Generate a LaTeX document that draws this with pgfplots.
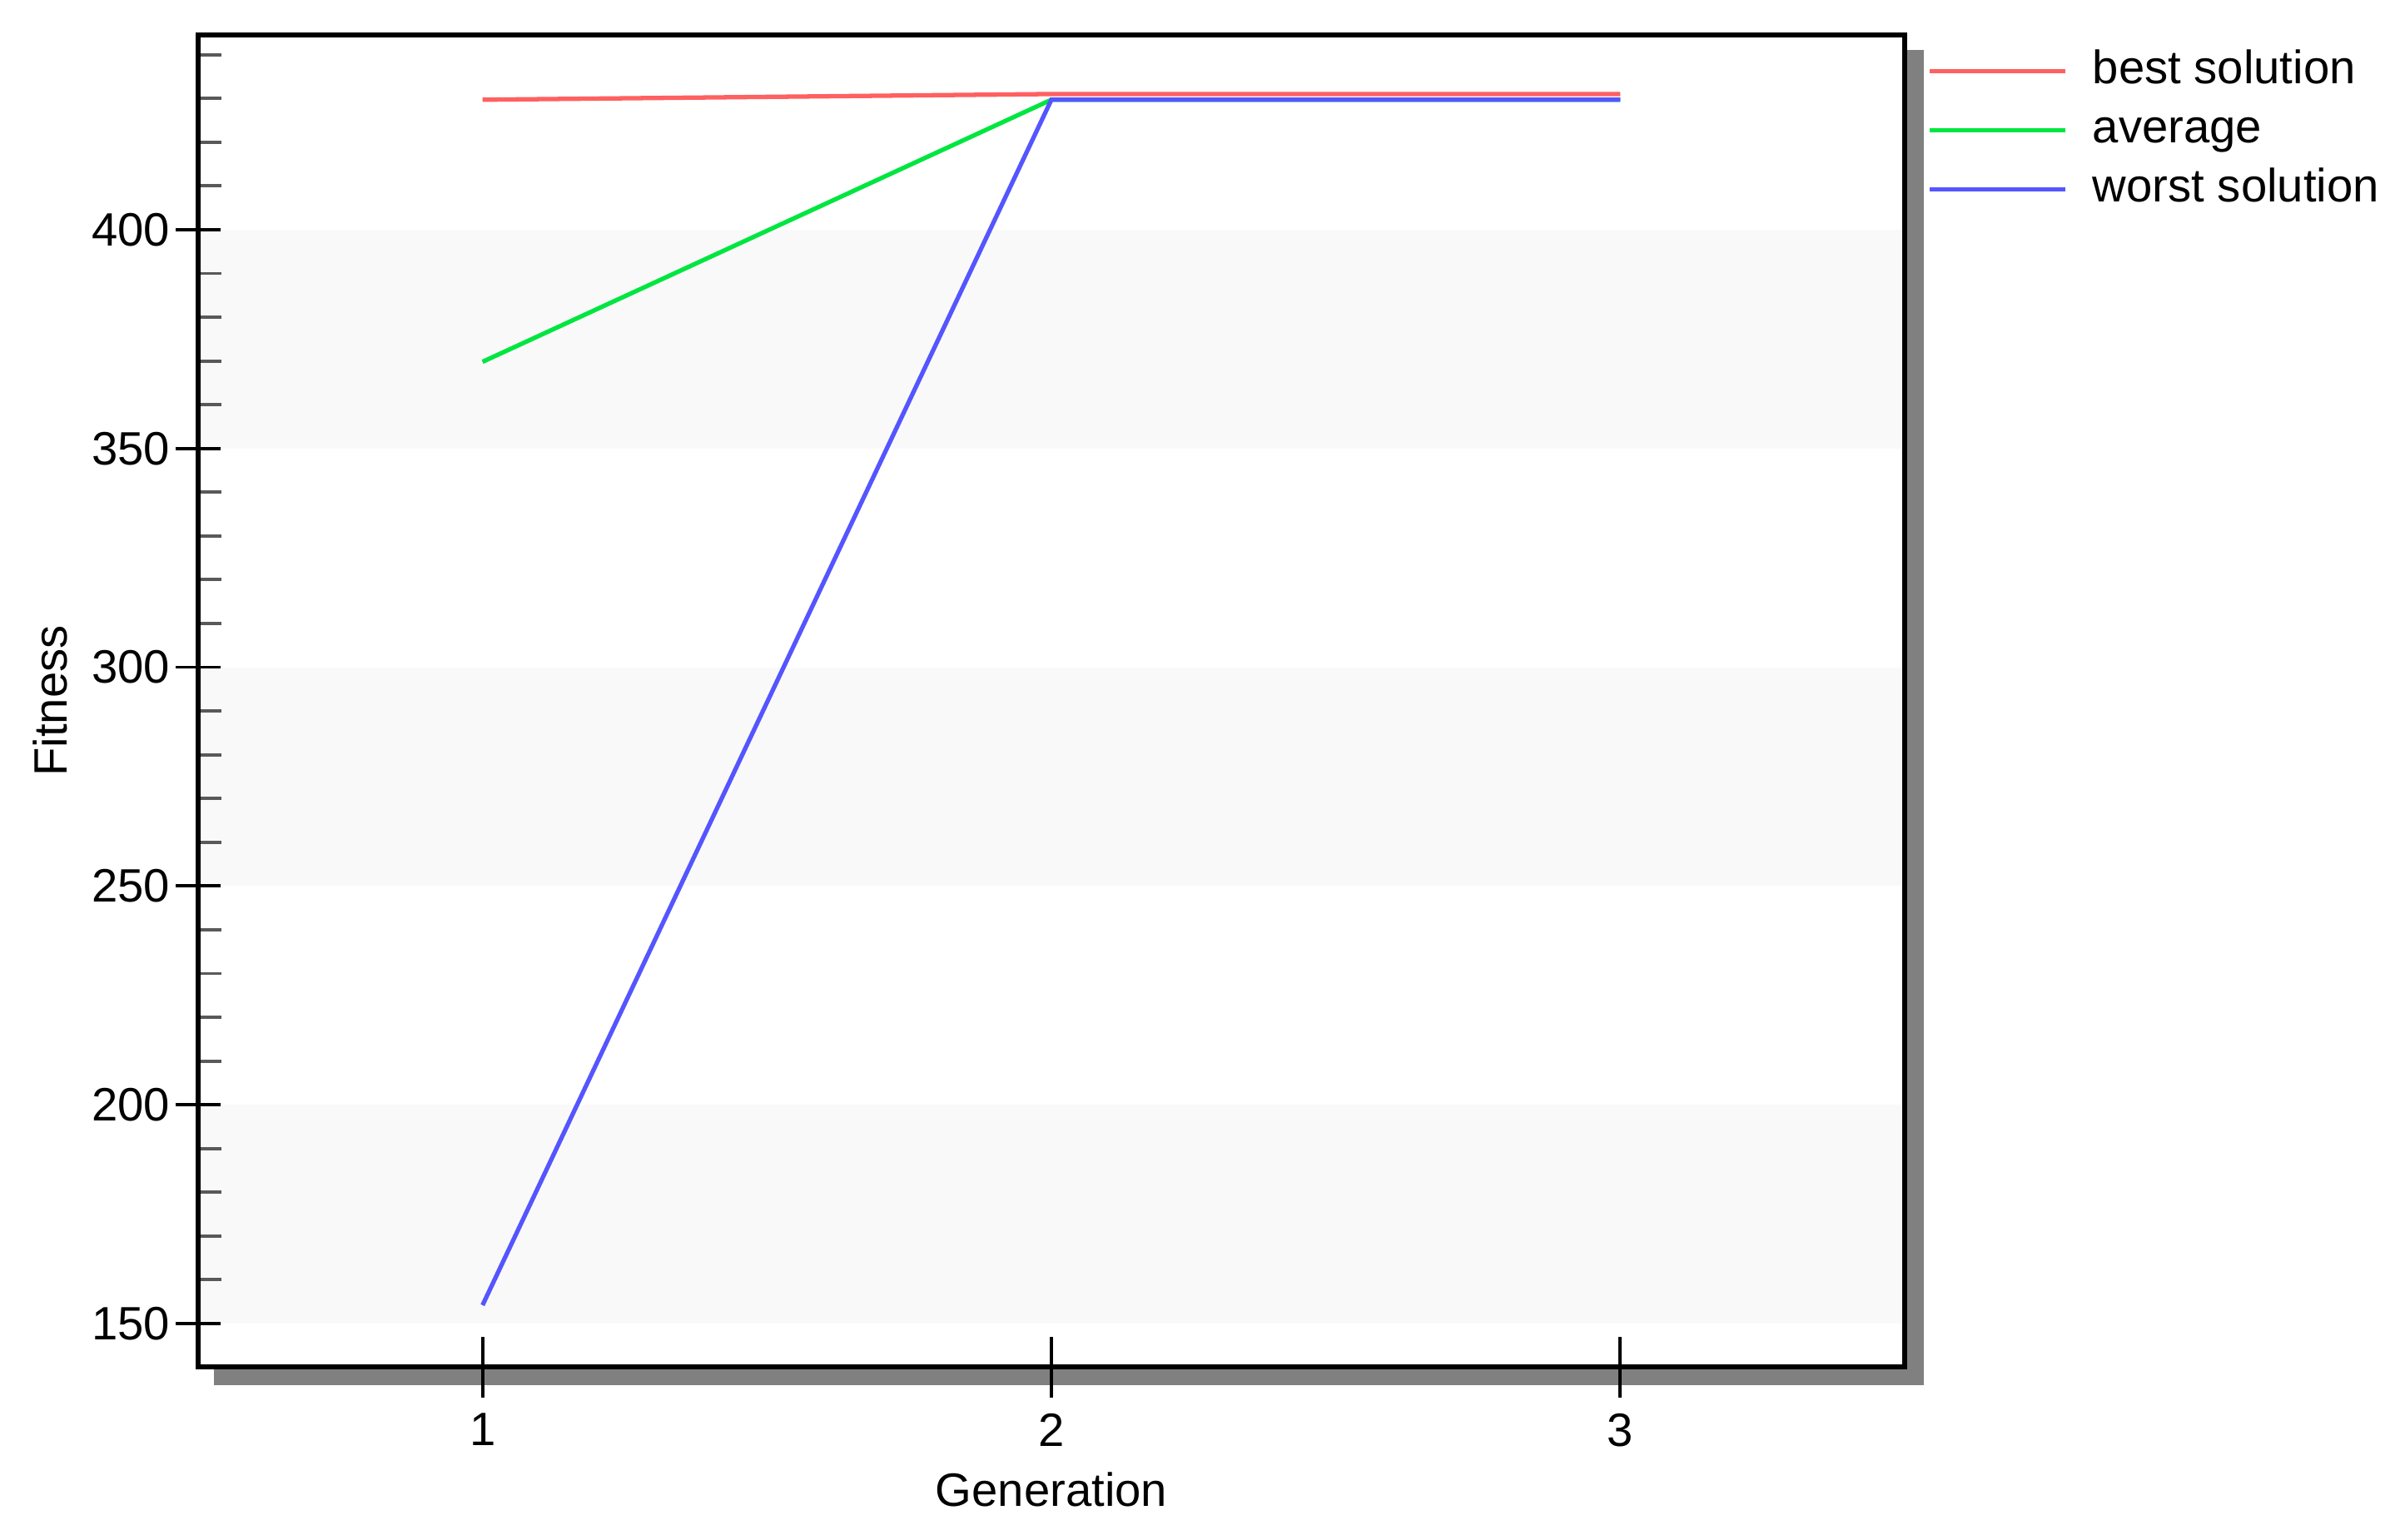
\documentclass[border=0pt]{standalone}
\usepackage{fontspec}
\setmainfont{Liberation Sans}
\usepackage{pgfplots}
\pgfplotsset{compat=1.18}

\definecolor{bestred}{RGB}{255,96,96}
\definecolor{avggreen}{RGB}{0,230,64}
\definecolor{worstblue}{RGB}{85,85,255}
\definecolor{bandgray}{RGB}{249,249,249}
\definecolor{shadowgray}{RGB}{128,128,128}
\newcommand{\lbl}{\fontsize{16}{19}\selectfont}

\begin{document}
\begin{tikzpicture}
\useasboundingbox (-2.38,-2.07) rectangle (26.51,16.42);
% drop shadow behind the plot box
\fill[shadowgray] (0.19,-0.22) rectangle (20.73,15.82);
\begin{axis}[
    at={(0,0)}, anchor=south west,
    scale only axis, width=20.5cm, height=16cm,
    xmin=0.5, xmax=3.5,
    ymin=140.1, ymax=444.5,
    axis on top,
    axis background/.style={fill=white},
    axis line style={line width=1.8pt, black},
    /pgf/number format/assume math mode=true,
    ticklabel style={font=\lbl},
    label style={font=\lbl},
    xtick=\empty,
    extra x ticks={1,2,3},
    extra x tick labels={1,2,3},
    extra x tick style={major tick length=0.73cm, tick align=center,
        major tick style={black, line width=1.1pt},
        xticklabel style={anchor=north, inner sep=0pt, yshift=-0.19cm}},
    xtick pos=bottom,
    ytick={150,200,250,300,350,400},
    minor ytick={160,170,180,190,210,220,230,240,260,270,280,290,
                 310,320,330,340,360,370,380,390,410,420,430,440},
    ytick pos=left,
    tick align=center,
    major tick length=0.54cm,
    minor tick length=0.28cm,
    major y tick style={black, line width=1.1pt},
    minor y tick style={black!65, line width=1.1pt, xshift=0.14cm},
    yticklabel style={anchor=east, inner sep=0pt, xshift=-0.06cm},
    xlabel={Generation},
    ylabel={Fitness},
    xlabel style={at={(axis description cs:0.5,-0.0919)}, anchor=center},
    ylabel style={at={(axis description cs:-0.0868,0.5)}, anchor=center},
    legend style={at={(rel axis cs:1,1)}, anchor=north west,
        xshift=0.27cm, yshift=-0.16cm,
        draw=none, fill=none, font=\lbl,
        inner sep=0pt, column sep=0.30cm, row sep=0.17cm,
        nodes={inner sep=0pt, text height=0.42cm, text depth=0.12cm}},
    legend cell align=left,
    legend image code/.code={\draw[#1] (0cm,0cm) -- (1.63cm,0cm);},
]
% light bands behind the data
\fill[bandgray] (axis cs:0.5,350) rectangle (axis cs:3.5,400);
\fill[bandgray] (axis cs:0.5,250) rectangle (axis cs:3.5,300);
\fill[bandgray] (axis cs:0.5,150) rectangle (axis cs:3.5,200);

\addplot[bestred, line width=1.5pt] coordinates {(1,429.7) (2,431) (3,431)};
\addlegendentry{best solution}
\addplot[avggreen, line width=1.5pt] coordinates {(1,369.8) (2,429.7) (3,429.7)};
\addlegendentry{average}
\addplot[worstblue, line width=1.5pt] coordinates {(1,154.2) (2,429.7) (3,429.7)};
\addlegendentry{worst solution}
\end{axis}
\end{tikzpicture}
\end{document}
